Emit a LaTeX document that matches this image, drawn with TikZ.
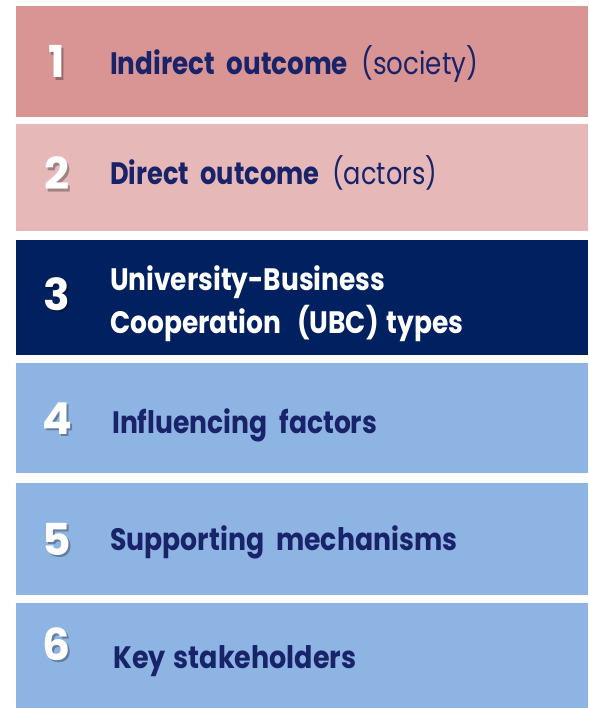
\documentclass[tikz,border=0pt]{standalone}
\usepackage{fontspec}
\setmainfont{Poppins}
\usepackage{graphicx}
\definecolor{rose}{RGB}{217,149,148}
\definecolor{pink}{RGB}{230,185,184}
\definecolor{navy}{RGB}{0,32,96}
\definecolor{sky}{RGB}{142,180,227}
\definecolor{txtblue}{RGB}{25,35,105}
\newcommand\fitw[2]{\resizebox{#1pt}{\height}{#2}}
\newcommand\shdig[2]{\rlap{\hspace{2pt}\raisebox{-2.5pt}{\textcolor{#2}{#1}}}#1}
\tikzset{
  band/.style={draw=none, inner sep=0pt, outer sep=0pt, anchor=north west, minimum width=572.5pt},
  lbl/.style={anchor=base west, inner sep=0pt, text=txtblue, font=\fontsize{31}{31}\selectfont},
  digit/.style={anchor=base, inner sep=0pt, text=white, font=\fontsize{44}{44}\selectfont\bfseries}
}
\begin{document}
\begin{tikzpicture}[x=1pt,y=-1pt]
\useasboundingbox (0,0) rectangle (588,708);
\fill[white] (0,0) rectangle (588,708);
\node[band, fill=rose, minimum height=111pt] (b1) at (15.5,6) {};
\node[band, fill=pink, minimum height=107pt] (b2) at (15.5,124) {};
\node[band, fill=navy, minimum height=115pt] (b3) at (15.5,240) {};
\node[band, fill=sky, minimum height=110pt] (b4) at (15.5,363) {};
\node[band, fill=sky, minimum height=112pt] (b5) at (15.5,483) {};
\node[band, fill=sky, minimum height=105pt] (b6) at (15.5,603) {};
% digits with soft shadows
\foreach \n/\y/\c in {1/78/rose,2/190/pink,3/310/navy,4/434/sky,5/555/sky,6/660/sky}{
  \node[digit] (d\n) at (57,\y) {\shdig{\n}{\c!70!black}};
}
% labels
\node[lbl] (t1) at (110,75) {\fitw{368}{\textbf{Indirect\hspace{0.45em}outcome}\hspace{0.5em}(society)}};
\node[lbl] (t2) at (110,185) {\fitw{327}{\textbf{Direct\hspace{0.45em}outcome}\hspace{0.5em}(actors)}};
\node[lbl, text=white] (t3a) at (110,290) {\fitw{275}{\textbf{University-Business}}};
\node[lbl, text=white] (t3b) at (110,333) {\fitw{353}{\textbf{Cooperation\hspace{0.6em}(UBC)\hspace{0.3em}types}}};
\node[lbl] (t4) at (112,433) {\fitw{265}{\textbf{Influencing\hspace{0.45em}factors}}};
\node[lbl] (t5) at (110,550) {\fitw{347}{\textbf{Supporting\hspace{0.45em}mechanisms}}};
\node[lbl] (t6) at (113,668) {\fitw{243}{\textbf{Key\hspace{0.3em}stakeholders}}};
\end{tikzpicture}
\end{document}
